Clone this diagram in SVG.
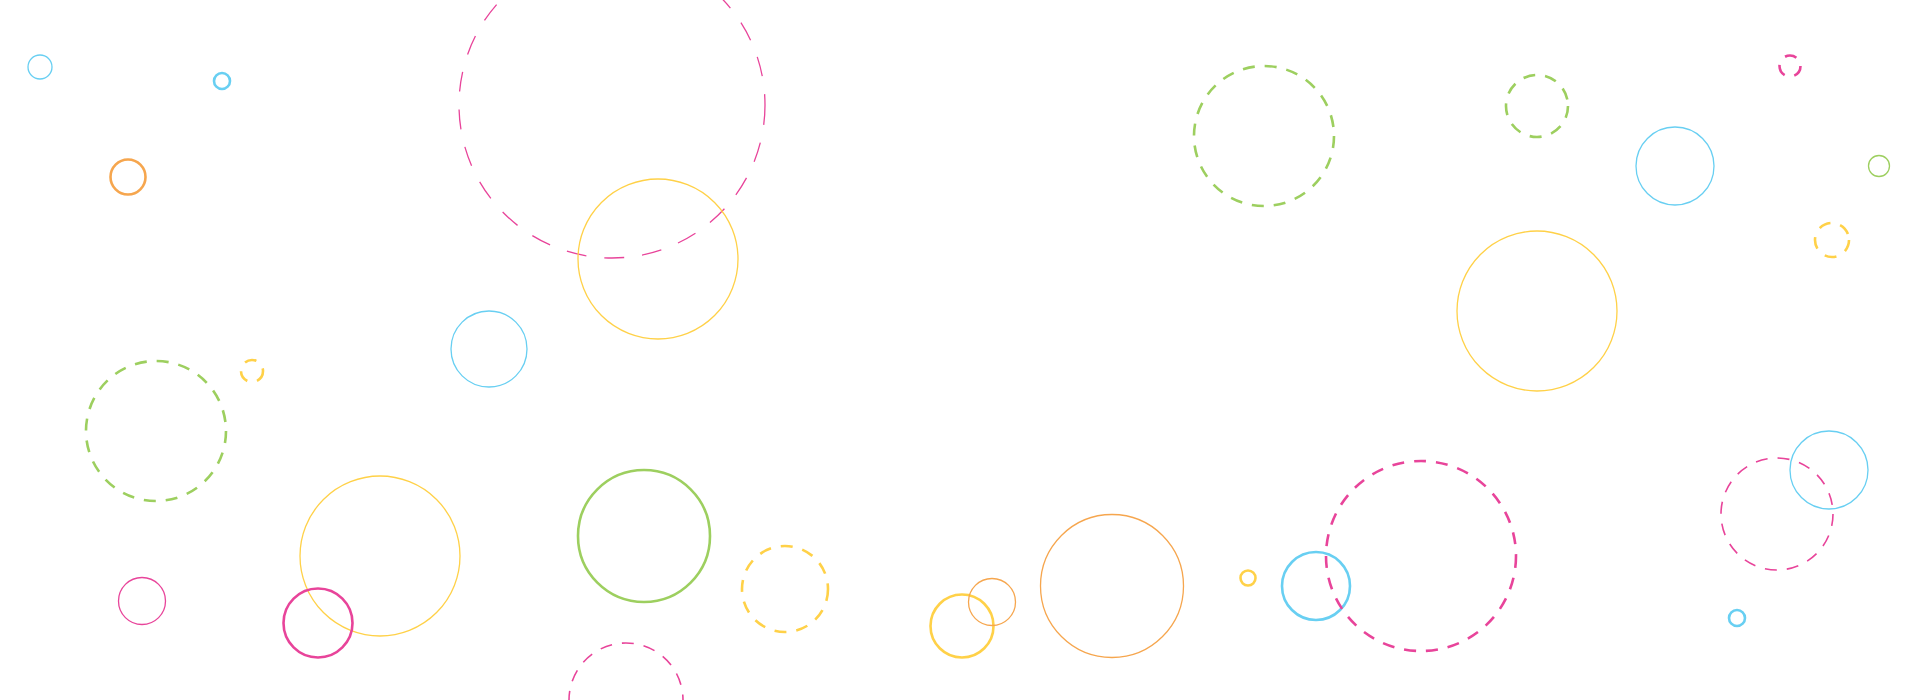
<svg xmlns="http://www.w3.org/2000/svg" width="1920" height="700" viewBox="0 0 1920 700">
<style>
circle{fill:none}
.cy{stroke:#68CFF2}
.pk{stroke:#E8449A}
.ye{stroke:#FFD148}
.gr{stroke:#9DCF5F}
.or{stroke:#F6A64E}
.t{stroke-width:1.3}
.m{stroke-width:1.6}
.k{stroke-width:2.6}
.d{stroke-dasharray:12 10}
.dl{stroke-dasharray:20 18}
</style>
<rect width="1920" height="700" fill="#ffffff"/>
<g id="c1"><circle class="cy t" cx="40" cy="67" r="12"/></g>
<g id="c2"><circle class="cy k" cx="222" cy="81" r="8"/></g>
<g id="c3"><circle class="or k" cx="128" cy="177" r="17.5"/></g>
<g id="c4"><circle class="pk t dl" cx="612" cy="105" r="153"/></g>
<g id="c5"><circle class="ye t" cx="658" cy="259" r="80"/></g>
<g id="c6"><circle class="cy t" cx="489" cy="349" r="38"/></g>
<g id="c7"><circle class="gr k d" cx="156" cy="431" r="70"/></g>
<g id="c8"><circle class="ye k d" cx="252" cy="371" r="11"/></g>
<g id="c9"><circle class="ye t" cx="380" cy="556" r="80"/></g>
<g id="c10"><circle class="pk t" cx="142" cy="601" r="23.5"/></g>
<g id="c11"><circle class="pk k" cx="318" cy="623" r="34.5"/></g>
<g id="c12"><circle class="gr k" cx="644" cy="536" r="66"/></g>
<g id="c13"><circle class="ye k d" cx="785" cy="589" r="43"/></g>
<g id="c14"><circle class="pk m d" cx="626" cy="700" r="57"/></g>
<g id="c15"><circle class="ye k" cx="962" cy="626" r="31.5"/></g>
<g id="c16"><circle class="or t" cx="992" cy="602" r="23.5"/></g>
<g id="c17"><circle class="or t" cx="1112" cy="586" r="71.5"/></g>
<g id="c18"><circle class="ye k" cx="1248" cy="578" r="7.5"/></g>
<g id="c19"><circle class="cy k" cx="1316" cy="586" r="34"/></g>
<g id="c20"><circle class="pk k d" cx="1421" cy="556" r="95"/></g>
<g id="c21"><circle class="gr k d" cx="1264" cy="136" r="70"/></g>
<g id="c22"><circle class="gr k d" cx="1537" cy="106" r="31"/></g>
<g id="c23"><circle class="ye t" cx="1537" cy="311" r="80"/></g>
<g id="c24"><circle class="cy t" cx="1675" cy="166" r="39"/></g>
<g id="c25"><circle class="pk k d" cx="1790" cy="66" r="10.5"/></g>
<g id="c26"><circle class="gr t" cx="1879" cy="166" r="10.5"/></g>
<g id="c27"><circle class="ye k d" cx="1832" cy="240" r="17"/></g>
<g id="c28"><circle class="pk m d" cx="1777" cy="514" r="56"/></g>
<g id="c29"><circle class="cy t" cx="1829" cy="470" r="39"/></g>
<g id="c30"><circle class="cy k" cx="1737" cy="618" r="8"/></g>
<g id="connectors"></g>
</svg>
